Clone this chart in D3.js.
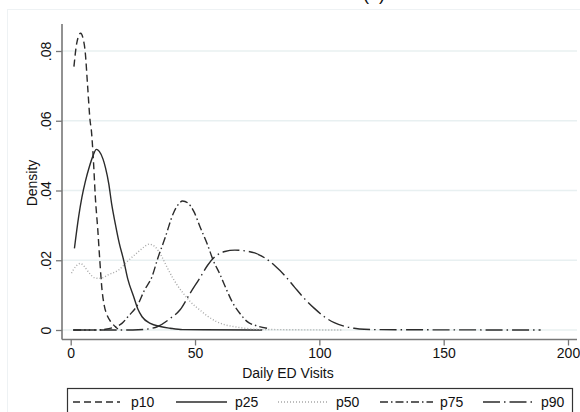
<!DOCTYPE html>
<html>
<head>
<meta charset="utf-8">
<script src="https://cdn.jsdelivr.net/npm/d3@7"></script>
<style>
  body { margin: 0; background: #fff; }
  text { font-family: "Liberation Sans", Arial, sans-serif; fill: #111; }
</style>
</head>
<body>
<div id="chart"></div>
<script>
// values (x = daily ED visits, y = density)
const p10X = [1.3, 2.5, 4, 5, 5.8, 6.8, 7.8, 8.3, 9.2, 9.9, 10.9, 11.7, 12.6, 13.5, 14.6, 16, 17.3, 19];
const p10Y = [.0755, .0825, .0851, .0835, .080, .070, .060, .0573, .0478, .0382, .0287, .020, .0115, .007, .0043, .0025, .0014, .0003];

const p25X = [1.5, 3.2, 4.5, 5.9, 7.5, 9, 10.3, 11.5, 13, 14, 15.3, 16.5, 17.9, 19.5, 21.3, 23, 25.3, 27, 28.7, 32, 36, 40, 45, 77];
const p25Y = [.0234, .0325, .038, .0426, .0468, .0500, .0518, .0512, .049, .0465, .042, .036, .0306, .025, .020, .0145, .0096, .006, .0038, .0019, .001, .0005, .0001, 0];

const p50X = [0.3, 2, 3.9, 5.5, 7.5, 9.5, 11.3, 13, 15, 19.3, 23, 27.3, 29.5, 31.5, 34, 36.5, 38.6, 41, 43, 45.3, 48, 52, 55, 58.7, 62, 65.4, 70, 75, 85, 109];
const p50Y = [.0163, .0182, .0191, .0182, .0163, .0150, .0148, .0150, .0158, .0172, .0198, .0225, .0238, .0246, .0238, .0212, .0182, .0150, .0127, .0105, .0082, .0057, .0040, .0024, .0015, .0010, .0005, .0002, .0001, 0];

const p75X = [1, 10, 14, 17, 20.6, 23, 27.3, 29.5, 32.7, 35, 38, 41.3, 43.5, 45, 47, 49.5, 52, 55, 57.3, 60, 62.7, 65, 68, 71, 74.8, 79];
const p75Y = [0, 0, .0002, .0007, .0019, .0038, .0077, .0112, .0153, .0205, .0265, .0335, .0362, .037, .0365, .034, .0296, .0245, .020, .016, .0115, .008, .0048, .0024, .0012, .0005];

const p90X = [1, 25, 30, 35, 40, 44, 48, 52, 55, 58, 62, 66, 70, 74, 78, 82, 86, 90, 94, 98, 102, 106, 110, 114, 118, 125, 189];
const p90Y = [0, 0, .0002, .001, .0033, .0058, .0105, .0150, .0185, .021, .0225, .0229, .0227, .0221, .0207, .0185, .0157, .0123, .009, .0062, .0038, .0021, .0011, .0005, .0002, .0001, 0];

const seriesNames = ["p10", "p25", "p50", "p75", "p90"];
const xTicks = [0, 50, 100, 150, 200];
const yTicks = [0, .02, .04, .06, .08];
const yTickLabels = ["0", ".02", ".04", ".06", ".08"];

const series = [
  { name: "p10", xs: p10X, ys: p10Y, color: "#2b2b2b", dash: "7,4" },
  { name: "p25", xs: p25X, ys: p25Y, color: "#2b2b2b", dash: null },
  { name: "p50", xs: p50X, ys: p50Y, color: "#a8a8a8", dash: "1,2" },
  { name: "p75", xs: p75X, ys: p75Y, color: "#2b2b2b", dash: "8,3,1.5,3" },
  { name: "p90", xs: p90X, ys: p90Y, color: "#2b2b2b", dash: "17,4,1.5,4" }
];

const W = 580, H = 412;
const plot = { left: 62, right: 577, top: 24, bottom: 339.5 };

const svg = d3.select("#chart").append("svg")
  .attr("width", W).attr("height", H);

// faint outer frame
svg.append("rect")
  .attr("x", 7.5).attr("y", 9.5)
  .attr("width", 620).attr("height", 450)
  .attr("fill", "none").attr("stroke", "#eef2f4");

// title, cropped at the top edge as in the source
svg.append("text")
  .attr("x", 374).attr("y", 0)
  .attr("text-anchor", "middle")
  .style("font-size", "18px")
  .text("(a)");

const x = d3.scaleLinear().domain([0, 200]).range([70.7, 568]);
const y = d3.scaleLinear().domain([0, 0.08]).range([330, 51]);

// gridlines
svg.append("g").selectAll("line")
  .data(yTicks)
  .join("line")
  .attr("x1", plot.left).attr("x2", plot.right)
  .attr("y1", d => y(d)).attr("y2", d => y(d))
  .attr("stroke", "#e8f0f1").attr("stroke-width", 1.5);

// axes
const xAxis = svg.append("g")
  .attr("transform", `translate(0, ${plot.bottom})`)
  .call(d3.axisBottom(x).tickValues(xTicks).tickSize(6).tickSizeOuter(0).tickPadding(3));

const yAxis = svg.append("g")
  .attr("transform", `translate(${plot.left}, 0)`)
  .call(d3.axisLeft(y).tickValues(yTicks).tickSize(6).tickSizeOuter(0)
    .tickFormat((d, i) => yTickLabels[i]));

[xAxis, yAxis].forEach(a => {
  a.select(".domain").remove();
  a.selectAll(".tick line").attr("stroke", "#777").attr("stroke-width", 1.3);
  a.selectAll(".tick text")
    .style("font-size", "14px")
    .style("font-family", "'Liberation Sans', Arial, sans-serif")
    .attr("fill", "#111");
});

xAxis.selectAll(".tick text").attr("y", 9);

yAxis.selectAll(".tick text")
  .attr("x", null).attr("dy", null)
  .attr("text-anchor", "middle")
  .attr("transform", "translate(-11.5, 0) rotate(-90)");

svg.append("line")
  .attr("x1", plot.left).attr("x2", plot.right)
  .attr("y1", plot.bottom).attr("y2", plot.bottom)
  .attr("stroke", "#777").attr("stroke-width", 1.6);

svg.append("line")
  .attr("x1", plot.left).attr("x2", plot.left)
  .attr("y1", plot.top).attr("y2", plot.bottom)
  .attr("stroke", "#777").attr("stroke-width", 1.6);

// axis titles
svg.append("text")
  .attr("x", 288).attr("y", 377.5)
  .attr("text-anchor", "middle")
  .style("font-size", "14px")
  .text("Daily ED Visits");

svg.append("text")
  .attr("transform", "translate(37, 183) rotate(-90)")
  .attr("text-anchor", "middle")
  .style("font-size", "14px")
  .text("Density");

// density curves
const line = d3.line()
  .x(d => x(d[0]))
  .y(d => y(d[1]))
  .curve(d3.curveMonotoneX);

svg.append("g").selectAll("path")
  .data(series)
  .join("path")
  .attr("fill", "none")
  .attr("stroke", d => d.color)
  .attr("stroke-width", 1.4)
  .attr("stroke-dasharray", d => d.dash)
  .attr("d", d => line(d.xs.map((v, i) => [v, d.ys[i]])));

// legend
const legend = svg.append("g");
legend.append("rect")
  .attr("x", 67.5).attr("y", 388.5)
  .attr("width", 505).attr("height", 40)
  .attr("fill", "#fff").attr("stroke", "#333").attr("stroke-width", 1.2);

const legendLineX = [73, 176, 278, 380, 483];
const legendTextX = [131, 235, 336, 440, 541];
const legendLineW = [47, 51, 50, 53, 49];

series.forEach((s, i) => {
  legend.append("line")
    .attr("x1", legendLineX[i]).attr("x2", legendLineX[i] + legendLineW[i])
    .attr("y1", 402).attr("y2", 402)
    .attr("stroke", s.color).attr("stroke-width", 1.4)
    .attr("stroke-dasharray", s.dash);
  legend.append("text")
    .attr("x", legendTextX[i]).attr("y", 406.5)
    .style("font-size", "14px")
    .text(seriesNames[i]);
});
</script>
</body>
</html>
